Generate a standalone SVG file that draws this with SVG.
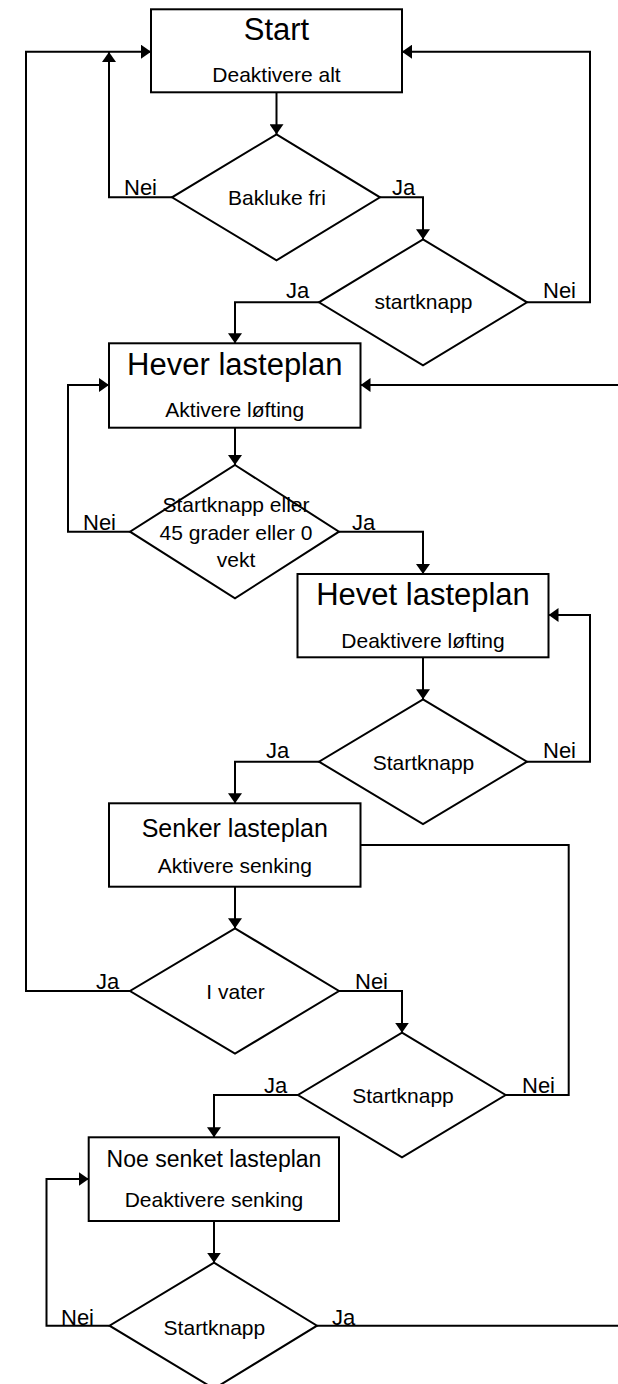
<svg xmlns="http://www.w3.org/2000/svg" width="618" height="1384" viewBox="0 0 618 1384">
<style>
.box{fill:#fff;stroke:#000;stroke-width:2}
.con{fill:none;stroke:#000;stroke-width:2}
text{font-family:"Liberation Sans",Arial,sans-serif;fill:#000}
.big{font-size:31px;text-anchor:middle}
.mid{font-size:25px;text-anchor:middle}
.sm{font-size:21px;text-anchor:middle}
.lbl{font-size:22px}
</style>
<defs>
<marker id="arr" markerUnits="userSpaceOnUse" viewBox="0 0 10 14" refX="10" refY="7" markerWidth="10" markerHeight="14" orient="auto">
<path d="M0,0 L10,7 L0,14 z" fill="#000"/>
</marker>
</defs>
<rect x="0" y="0" width="618" height="1384" fill="#fff"/>
<g id="connectors">
<path class="con" d="M276.5,92.3 L276.5,134.3" marker-end="url(#arr)"/>
<path class="con" d="M172,197.3 L109,197.3 L109,52" marker-end="url(#arr)"/>
<path class="con" d="M380,197.3 L423,197.3 L423,239.3" marker-end="url(#arr)"/>
<path class="con" d="M527,302.3 L590,302.3 L590,51.7 L402,51.7" marker-end="url(#arr)"/>
<path class="con" d="M319,302.3 L235,302.3 L235,343.3" marker-end="url(#arr)"/>
<path class="con" d="M130,991 L26,991 L26,51.7 L151,51.7" marker-end="url(#arr)"/>
<path class="con" d="M235,427.7 L235,465" marker-end="url(#arr)"/>
<path class="con" d="M130,531.7 L68,531.7 L68,385 L109,385" marker-end="url(#arr)"/>
<path class="con" d="M618,385 L360.5,385" marker-end="url(#arr)"/>
<path class="con" d="M339,531.7 L423,531.7 L423,574" marker-end="url(#arr)"/>
<path class="con" d="M423,657.3 L423,699.3" marker-end="url(#arr)"/>
<path class="con" d="M527,761.7 L590,761.7 L590,615 L548.5,615" marker-end="url(#arr)"/>
<path class="con" d="M319,761.7 L235,761.7 L235,803.3" marker-end="url(#arr)"/>
<path class="con" d="M235,886.7 L235,928.3" marker-end="url(#arr)"/>
<path class="con" d="M360.5,845 L568.7,845 L568.7,1095 L505.6,1095"/>
<path class="con" d="M339,991 L402,991 L402,1032.7" marker-end="url(#arr)"/>
<path class="con" d="M298,1095 L214,1095 L214,1137.3" marker-end="url(#arr)"/>
<path class="con" d="M214,1221 L214,1262.7" marker-end="url(#arr)"/>
<path class="con" d="M109.5,1325.7 L46.5,1325.7 L46.5,1179 L88.7,1179" marker-end="url(#arr)"/>
<path class="con" d="M317,1325.7 L618,1325.7"/>
<text class="lbl" x="124" y="195">Nei</text>
<text class="lbl" x="392" y="195">Ja</text>
<text class="lbl" x="286" y="298">Ja</text>
<text class="lbl" x="543" y="298">Nei</text>
<text class="lbl" x="83" y="530">Nei</text>
<text class="lbl" x="352" y="530">Ja</text>
<text class="lbl" x="266" y="758">Ja</text>
<text class="lbl" x="543" y="758">Nei</text>
<text class="lbl" x="96" y="989">Ja</text>
<text class="lbl" x="355" y="989">Nei</text>
<text class="lbl" x="264" y="1093">Ja</text>
<text class="lbl" x="522" y="1093">Nei</text>
<text class="lbl" x="61" y="1325">Nei</text>
<text class="lbl" x="332" y="1325">Ja</text>
</g>
<g id="start">
<rect class="box" x="151" y="9.3" width="251" height="83"/>
<text class="big" x="276.5" y="40">Start</text>
<text class="sm" x="276.5" y="81.7">Deaktivere alt</text>
</g>
<g id="bakluke">
<polygon class="box" points="276.5,134.3 380,197.3 276.5,260.3 172,197.3"/>
<text class="sm" x="277" y="205">Bakluke fri</text>
</g>
<g id="startknapp1">
<polygon class="box" points="423,239.3 527,302.3 423,365.3 319,302.3"/>
<text class="sm" x="423.5" y="309">startknapp</text>
</g>
<g id="hever">
<rect class="box" x="109" y="343.3" width="251.5" height="84.4"/>
<text class="big" x="234.8" y="375">Hever lasteplan</text>
<text class="sm" x="234.8" y="417">Aktivere løfting</text>
</g>
<g id="sjekk">
<polygon class="box" points="235,465 339,531.7 235,598.3 130,531.7"/>
<text class="sm" x="236" y="511.7">Startknapp eller</text>
<text class="sm" x="236" y="540">45 grader eller 0</text>
<text class="sm" x="236" y="567.3">vekt</text>
</g>
<g id="hevet">
<rect class="box" x="297.5" y="574" width="251" height="83.3"/>
<text class="big" x="423" y="605">Hevet lasteplan</text>
<text class="sm" x="423" y="648">Deaktivere løfting</text>
</g>
<g id="startknapp2">
<polygon class="box" points="423,699.3 527,761.7 423,824.1 319,761.7"/>
<text class="sm" x="423.5" y="770">Startknapp</text>
</g>
<g id="senker">
<rect class="box" x="109" y="803.3" width="251.5" height="83.4"/>
<text class="mid" x="234.8" y="837">Senker lasteplan</text>
<text class="sm" x="234.8" y="872.5">Aktivere senking</text>
</g>
<g id="ivater">
<polygon class="box" points="235,928.3 339,991 235,1053.7 130,991"/>
<text class="sm" x="235.5" y="999.3">I vater</text>
</g>
<g id="startknapp3">
<polygon class="box" points="402,1032.7 505.6,1095 402,1157.3 298,1095"/>
<text class="sm" x="403" y="1103.3">Startknapp</text>
</g>
<g id="noe">
<rect class="box" x="88.7" y="1137.3" width="250.3" height="83.7"/>
<text class="mid" x="214" y="1167.3" style="font-size:23px">Noe senket lasteplan</text>
<text class="sm" x="214" y="1207">Deaktivere senking</text>
</g>
<g id="startknapp4">
<polygon class="box" points="214,1262.7 317,1325.7 214,1388.7 109.5,1325.7"/>
<text class="sm" x="214.4" y="1335">Startknapp</text>
</g>
</svg>
